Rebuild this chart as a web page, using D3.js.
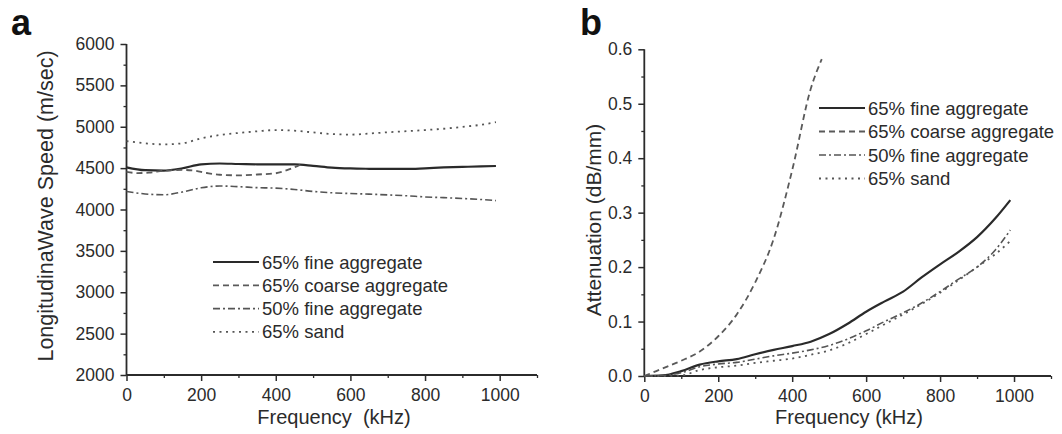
<!DOCTYPE html>
<html>
<head>
<meta charset="utf-8">
<script src="https://cdn.jsdelivr.net/npm/d3@7"></script>
<style>
  html, body { margin: 0; padding: 0; background: #fff; }
  svg { display: block; font-family: "Liberation Sans", Arial, sans-serif; }
</style>
</head>
<body>
<svg id="chart" width="1062" height="434"></svg>
<script>
// Series names shared by both panels
const seriesNames = ["65% fine aggregate", "65% coarse aggregate", "50% fine aggregate", "65% sand"];

// Panel a: longitudinal wave speed (m/s) vs frequency (kHz)
const speedFreq = [0, 50, 100, 150, 200, 250, 300, 350, 400, 450, 500, 550, 600, 650, 700, 750, 800, 850, 900, 950, 990];
const speedFine65 = [4510, 4475, 4470, 4498, 4546, 4556, 4550, 4546, 4545, 4545, 4528, 4506, 4496, 4492, 4490, 4490, 4498, 4508, 4515, 4520, 4526];
const speedFine50 = [4218, 4188, 4178, 4212, 4262, 4284, 4276, 4264, 4258, 4242, 4218, 4202, 4193, 4186, 4176, 4166, 4152, 4143, 4133, 4121, 4107];
const speedSand65 = [4827, 4800, 4787, 4800, 4860, 4900, 4925, 4945, 4960, 4952, 4932, 4912, 4905, 4918, 4933, 4946, 4960, 4976, 4998, 5024, 5055];
const speedCoarseFreq = [0, 30, 60, 100, 150, 180, 215, 250, 300, 350, 400, 430, 470];
const speedCoarse65 = [4455, 4440, 4445, 4468, 4478, 4470, 4441, 4420, 4413, 4423, 4438, 4475, 4550];

// Panel b: attenuation (dB/mm) vs frequency (kHz)
const attFreq = [0, 50, 100, 150, 200, 250, 300, 350, 400, 450, 500, 550, 600, 650, 700, 750, 800, 850, 900, 950, 990];
const attFine65 = [0, 0.001, 0.009, 0.021, 0.027, 0.031, 0.040, 0.048, 0.055, 0.063, 0.077, 0.096, 0.118, 0.137, 0.155, 0.181, 0.205, 0.228, 0.255, 0.290, 0.323];
const attFine50 = [0, 0.001, 0.006, 0.017, 0.022, 0.025, 0.031, 0.037, 0.042, 0.048, 0.056, 0.068, 0.083, 0.100, 0.116, 0.134, 0.155, 0.178, 0.200, 0.232, 0.268];
const attSand65 = [0, 0, 0.001, 0.011, 0.016, 0.019, 0.024, 0.028, 0.032, 0.039, 0.047, 0.060, 0.077, 0.095, 0.113, 0.132, 0.153, 0.176, 0.200, 0.224, 0.248];
const attCoarseFreq = [0, 50, 100, 150, 200, 250, 300, 350, 400, 450, 480];
const attCoarse65 = [0, 0.014, 0.028, 0.045, 0.073, 0.113, 0.172, 0.252, 0.378, 0.527, 0.582];

// Axis ticks
const freqTicks = [0, 200, 400, 600, 800, 1000];
const speedTicks = [2000, 2500, 3000, 3500, 4000, 4500, 5000, 5500, 6000];
const attTicks = [0, 0.1, 0.2, 0.3, 0.4, 0.5, 0.6];

const svg = d3.select("#chart");
const ink = "#2b2b2b";

// Line styles per series (solid, dashed, dash-dot, dotted)
const styles = [
  { dash: null, width: 2.2, color: "#2a2a2a" },
  { dash: "6,4", width: 1.8, color: "#5a5a5a" },
  { dash: "7,3,2,3", width: 1.6, color: "#555" },
  { dash: "2,4.5", width: 1.8, color: "#555" }
];

function drawPanel(cfg) {
  const g = svg.append("g");
  const x = cfg.x, y = cfg.y;
  const x0 = x.range()[0], y0 = y.range()[0];

  // minor ticks
  const xMinor = d3.range(100, 1101, 200);
  g.append("g").attr("transform", `translate(0,${y0})`)
    .call(d3.axisBottom(x).tickValues(xMinor).tickSize(3).tickFormat(""))
    .call(a => a.select(".domain").remove())
    .call(a => a.selectAll("line").attr("stroke", ink).attr("stroke-width", 1.3));
  g.append("g").attr("transform", `translate(${x0},0)`)
    .call(d3.axisLeft(y).tickValues(cfg.yMinor).tickSize(3).tickFormat(""))
    .call(a => a.select(".domain").remove())
    .call(a => a.selectAll("line").attr("stroke", ink).attr("stroke-width", 1.3));

  // major axes
  const xa = g.append("g").attr("transform", `translate(0,${y0})`)
    .call(d3.axisBottom(x).tickValues(freqTicks).tickSize(6).tickSizeOuter(0).tickPadding(8).tickFormat(d3.format("d")));
  const ya = g.append("g").attr("transform", `translate(${x0},0)`)
    .call(d3.axisLeft(y).tickValues(cfg.yTicks).tickSize(6).tickSizeOuter(0).tickPadding(6).tickFormat(cfg.yFormat));
  [xa, ya].forEach(a => {
    a.select(".domain").attr("stroke", ink).attr("stroke-width", 1.8);
    a.selectAll("line").attr("stroke", ink).attr("stroke-width", 1.5);
    a.selectAll("text").attr("fill", ink).attr("font-size", 17.5).attr("font-family", "Liberation Sans, Arial, sans-serif");
  });
  // x domain line runs to the 1100 end of the scale
  xa.select(".domain").attr("d", `M${x0},0H${x.range()[1]}`);
  ya.select(".domain").attr("d", `M0,${y0}V${y.range()[1]}`);

  // series lines
  const line = d3.line().x(d => x(d[0])).y(d => y(d[1])).curve(d3.curveMonotoneX);
  cfg.series.forEach((s, i) => {
    const pts = s.f.map((f, k) => [f, s.v[k]]);
    g.append("path").datum(pts)
      .attr("fill", "none")
      .attr("stroke", styles[i].color)
      .attr("stroke-width", styles[i].width)
      .attr("stroke-dasharray", styles[i].dash)
      .attr("stroke-linejoin", "round")
      .attr("d", line);
  });

  // legend
  const lg = g.append("g").attr("transform", `translate(${cfg.legend[0]},${cfg.legend[1]})`);
  seriesNames.forEach((name, i) => {
    const row = lg.append("g").attr("transform", `translate(0,${i * cfg.legendGap})`);
    row.append("line").attr("x1", 0).attr("x2", 46).attr("y1", 0).attr("y2", 0)
      .attr("stroke", styles[i].color).attr("stroke-width", styles[i].width)
      .attr("stroke-dasharray", styles[i].dash);
    row.append("text").attr("x", 49).attr("y", 6.5).attr("fill", ink)
      .attr("font-size", 18.5).text(name);
  });

  // axis titles
  g.append("text").attr("x", cfg.xTitle[0]).attr("y", cfg.xTitle[1])
    .attr("text-anchor", "middle").attr("fill", ink).attr("font-size", 20)
    .attr("xml:space", "preserve").style("white-space", "pre").text(cfg.xLabel);
  g.append("text")
    .attr("transform", `translate(${cfg.yTitle[0]},${cfg.yTitle[1]}) rotate(-90)`)
    .attr("text-anchor", "middle").attr("fill", ink).attr("font-size", cfg.yTitleSize)
    .text(cfg.yLabel);

  // panel letter
  g.append("text").attr("x", cfg.letterPos[0]).attr("y", cfg.letterPos[1])
    .attr("font-weight", "bold").attr("font-size", 36).attr("fill", "#111").text(cfg.letter);
}

drawPanel({
  x: d3.scaleLinear().domain([0, 1100]).range([126.5, 537]),
  y: d3.scaleLinear().domain([2000, 6000]).range([375, 44]),
  yTicks: speedTicks,
  yMinor: d3.range(2250, 6000, 500),
  yFormat: d3.format("d"),
  series: [
    { f: speedFreq, v: speedFine65 },
    { f: speedCoarseFreq, v: speedCoarse65 },
    { f: speedFreq, v: speedFine50 },
    { f: speedFreq, v: speedSand65 }
  ],
  legend: [213, 262],
  legendGap: 23.3,
  xLabel: "Frequency  (kHz)",
  yLabel: "LongitudinaWave Speed (m/sec)",
  xTitle: [334, 424],
  yTitle: [53, 206],
  yTitleSize: 21.5,
  letter: "a",
  letterPos: [11, 35]
});

drawPanel({
  x: d3.scaleLinear().domain([0, 1100]).range([644.3, 1051]),
  y: d3.scaleLinear().domain([0, 0.6]).range([376, 49.3]),
  yTicks: attTicks,
  yMinor: d3.range(0.05, 0.6, 0.1),
  yFormat: d3.format(".1f"),
  series: [
    { f: attFreq, v: attFine65 },
    { f: attCoarseFreq, v: attCoarse65 },
    { f: attFreq, v: attFine50 },
    { f: attFreq, v: attSand65 }
  ],
  legend: [819, 108],
  legendGap: 23.5,
  xLabel: "Frequency (kHz)",
  yLabel: "Attenuation (dB/mm)",
  xTitle: [849, 424],
  yTitle: [601, 220],
  yTitleSize: 21,
  letter: "b",
  letterPos: [580, 35]
});
</script>
</body>
</html>
